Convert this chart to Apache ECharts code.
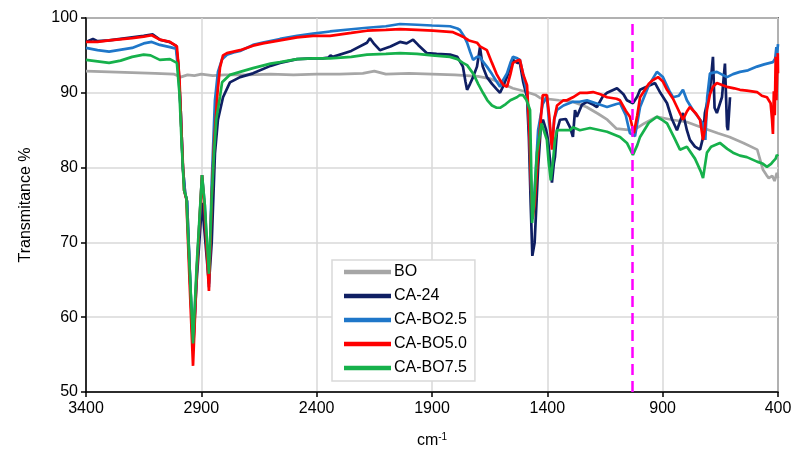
<!DOCTYPE html>
<html><head><meta charset="utf-8">
<script src="https://cdn.jsdelivr.net/npm/echarts@6/dist/echarts.min.js"></script>
<style>html,body{margin:0;padding:0;background:#fff}#c{width:795px;height:454px}</style>
</head><body><div id="c"></div>
<script>
const xTicks = [3400, 2900, 2400, 1900, 1400, 900, 400];
const seriesNames = ['BO', 'CA-24', 'CA-BO2.5', 'CA-BO5.0', 'CA-BO7.5'];
const markerWn = 1030;

const boWn = [3400,3300,3200,3100,3020,2990,2960,2930,2900,2850,2800,2700,2600,2500,2400,2300,2200,2150,2100,2000,1900,1800,1700,1650,1600,1550,1500,1450,1430,1350,1290,1230,1180,1140,1100,1040,1020,980,925,860,795,725,660,610,550,490,465,450,440,425,415,405,400];
const boT  = [92.9,92.8,92.7,92.6,92.5,92.1,92.4,92.3,92.5,92.3,92.4,92.4,92.5,92.4,92.5,92.5,92.6,92.9,92.5,92.6,92.5,92.4,92.2,91.9,91.3,90.6,90.2,89.7,89.3,89.0,88.8,88.1,87.2,86.4,85.2,85.0,85.1,85.9,86.8,86.4,86.1,85.3,84.6,84.1,83.3,82.4,79.7,79.0,78.6,78.9,78.2,79.3,78.6];

const ca24Wn = [3400,3370,3350,3300,3200,3150,3110,3080,3040,3010,3000,2990,2980,2970,2962,2950,2936,2920,2897,2885,2867,2855,2841,2828,2806,2776,2732,2676,2600,2559,2485,2416,2373,2350,2340,2330,2250,2182,2169,2150,2126,2080,2039,2010,1982,1960,1922,1880,1822,1790,1766,1755,1748,1735,1722,1705,1692,1680,1662,1640,1620,1605,1590,1575,1560,1549,1530,1519,1505,1488,1480,1472,1465,1455,1440,1428,1419,1405,1397,1385,1380,1372,1367,1358,1345,1320,1302,1289,1280,1272,1250,1228,1200,1185,1160,1141,1098,1070,1055,1029,1010,998,955,933,910,881,860,838,812,795,782,760,738,725,717,695,682,675,665,643,630,621,617,608];
const ca24T  = [96.8,97.2,96.9,97.0,97.4,97.6,97.8,97.1,96.8,96.3,94,88,80,76.5,75.5,66,55.5,65,75.3,71,64.5,70,81.9,86.4,89.4,91.4,92.1,92.6,93.6,94.0,94.5,94.6,94.6,94.7,95.0,94.8,95.6,96.7,97.3,96.5,95.7,96.2,96.8,96.6,97.1,96.4,95.3,95.2,95.1,94.8,93.5,91.5,90.4,91.2,92.1,93.5,96.1,93.5,92.1,91.2,90.5,90.0,91.0,92.1,93.5,94.4,94.0,94.0,91.5,89.4,84,75,68.2,70,80,85.5,86.4,85,83.7,80,78,80.5,81.4,85,86.4,86.5,85.4,84.1,87.7,86.8,88.4,88.8,88.4,88.1,89.5,90.0,90.6,89.8,89.0,88.6,89.5,90.4,91.0,91.3,90.0,88.6,86.5,85.0,87.3,85.0,83.7,82.8,82.4,84,87.3,90.4,94.8,88,87.3,89.4,93.9,85.5,85.0,89.4];

const bo25Wn = [3400,3350,3300,3200,3150,3115,3080,3036,3010,3000,2990,2980,2970,2962,2950,2936,2920,2897,2885,2867,2855,2841,2828,2810,2789,2760,2732,2676,2633,2559,2485,2416,2342,2250,2182,2100,2039,1965,1900,1822,1790,1779,1760,1748,1735,1722,1705,1692,1680,1662,1640,1620,1605,1590,1575,1560,1549,1530,1519,1505,1488,1478,1470,1464,1455,1440,1420,1402,1392,1380,1370,1358,1330,1289,1260,1228,1180,1141,1100,1085,1060,1042,1020,1010,998,960,925,899,870,855,830,812,795,769,740,725,715,707,695,665,621,595,565,530,491,460,422,412,407,404,400];
const bo25T  = [96.0,95.7,95.5,96.0,96.6,96.8,96.4,96.1,95.9,93,88,80,76.5,75.5,66,55.8,66,79,75,64,78,89,92.8,94.5,95.1,95.4,95.6,96.4,96.7,97.2,97.6,97.9,98.2,98.5,98.7,98.9,99.2,99.1,99.0,98.9,98.6,98.4,97.5,96.7,95.5,94.4,94.8,94.8,94.2,93.5,92.5,91.5,90.8,91.8,92.6,94.0,94.8,94.6,94.4,92.5,90.0,85,77,74.5,77,85,88.5,89.5,86,83,86.5,87.7,88.3,88.8,88.8,89.0,88.5,88.1,88.5,88.6,87,84.6,84.2,86,88.1,91.0,92.8,92.1,90.2,89.4,89.6,90.4,89.0,87.7,86.5,85.9,83.7,89.4,92.6,92.8,92.1,92.5,92.8,93.0,93.5,93.8,94.1,94.6,96.1,95.2,96.5];

const bo50Wn = [3400,3350,3300,3200,3150,3115,3080,3036,3006,2995,2985,2975,2965,2950,2936,2920,2897,2885,2867,2855,2845,2830,2819,2806,2789,2732,2676,2633,2559,2485,2416,2342,2250,2182,2100,2039,1965,1896,1809,1779,1766,1740,1705,1692,1662,1640,1620,1605,1590,1575,1560,1549,1530,1519,1505,1488,1478,1470,1464,1455,1440,1420,1402,1392,1380,1370,1358,1330,1315,1289,1259,1228,1202,1170,1141,1100,1085,1060,1042,1025,1010,998,960,942,920,899,881,855,838,812,795,782,755,738,725,718,708,695,682,665,640,621,590,565,535,491,470,448,432,426,422,418,414,410,407,404,401,400];
const bo50T  = [96.8,96.8,97.0,97.3,97.5,97.7,97.1,96.8,96.2,92,84,77,75.8,64,53.5,66,79,74,63.5,76,83,90.0,93.4,95.0,95.3,95.7,96.3,96.6,97.0,97.4,97.6,97.6,98.0,98.3,98.4,98.5,98.4,98.3,98.1,97.7,97.5,97.0,96.7,96.2,95.7,94,92.5,91.7,91.0,90.8,92.5,94.0,94.3,94.4,92.5,91.0,85,77,73.2,75,82,89.7,89.7,87,82.4,86.5,88.3,89.0,89.0,89.4,90.0,90.0,90.1,89.8,89.4,89.2,89.0,87.6,86.8,84.6,87,89.4,91.2,91.7,92.1,91.5,90.4,89.2,88.1,86.4,87.5,88.1,87.2,86.4,83.7,85,87.7,89.8,90.8,91.3,91.0,90.8,90.6,90.4,90.3,90.1,89.6,89.4,88.6,86.5,84.5,90.2,87.0,94.8,89.0,92.0,95.3,92.6];

const bo75Wn = [3400,3350,3300,3250,3200,3150,3120,3080,3036,3006,2995,2985,2975,2965,2950,2936,2920,2897,2885,2867,2855,2845,2835,2819,2810,2776,2732,2676,2600,2559,2485,2416,2342,2250,2182,2100,2039,1965,1900,1822,1790,1766,1748,1720,1700,1679,1660,1640,1620,1605,1580,1560,1532,1519,1506,1490,1475,1470,1466,1458,1445,1425,1419,1402,1395,1385,1375,1367,1358,1345,1302,1289,1259,1215,1141,1085,1055,1042,1029,1010,998,960,925,899,881,850,825,795,760,751,735,725,708,690,652,620,595,565,535,491,465,448,430,422,410,405,400];
const bo75T  = [94.4,94.2,94.0,94.3,94.8,95.1,95.0,94.4,94.5,94.0,90,83,77,76,66,56.5,67,79,75,65.8,76,82,86.5,89.5,91.4,92.4,92.8,93.3,93.9,94.1,94.5,94.6,94.6,94.8,95.1,95.2,95.3,95.2,95.0,94.8,94.5,94.0,93.7,92.5,91.2,90.0,89.0,88.3,88.0,88.0,88.5,89.0,89.4,89.7,89.7,89.0,87.7,80,72.6,75,82,85.9,85.9,83.7,81,78.3,81,83.7,85.0,85.0,85.0,85.4,85.0,85.3,84.8,84.1,83.3,82.5,81.7,83,84.1,86.0,86.8,86.3,85.9,84,82.4,82.8,81.2,80.6,79.5,78.6,82.0,82.8,83.3,82.5,82.0,81.6,81.4,80.8,80.5,80.1,80.5,80.8,81.2,81.7,81.5];

const colors = ['#a6a6a6', '#0f1f63', '#1f77c9', '#ff0000', '#16b14b'];
const wnSets = [boWn, ca24Wn, bo25Wn, bo50Wn, bo75Wn];
const tSets = [boT, ca24T, bo25T, bo50T, bo75T];

const chart = echarts.init(document.getElementById('c'), null, {renderer: 'canvas'});
const FONT = '"Liberation Sans", Arial, sans-serif';
const series = seriesNames.map((name, i) => ({
  name: name,
  type: 'line',
  data: wnSets[i].map((w, k) => [w, tSets[i][k]]),
  symbol: 'none',
  smooth: false,
  lineStyle: {color: colors[i], width: 2.7},
  itemStyle: {color: colors[i]},
  z: 2 + i,
  silent: true
}));
series[4].markLine = {
  silent: true,
  symbol: ['none', 'none'],
  label: {show: false},
  lineStyle: {color: '#ff00ff', width: 2.5, type: [11, 6]},
  data: [{xAxis: markerWn}],
  z: 20
};

chart.setOption({
  animation: false,
  backgroundColor: '#fff',
  textStyle: {fontFamily: FONT},
  grid: {left: 86, right: 17, top: 18, bottom: 62, show: true, borderColor: '#000', borderWidth: 1.5, backgroundColor: 'transparent'},
  legend: {
    orient: 'vertical', left: 332, top: 260,
    data: seriesNames,
    backgroundColor: '#fff', borderColor: '#d9d9d9', borderWidth: 1.5,
    padding: [4, 8, 5, 12],
    itemWidth: 47, itemHeight: 14, itemGap: 8,
    textStyle: {fontFamily: FONT, fontSize: 16, color: '#000', padding: [0, 0, 0, -2]},
    icon: 'path://M0,0 L10,0 L10,1 L0,1 Z',
  },
  xAxis: {
    type: 'value', inverse: true, min: 400, max: 3400, interval: 500,
    name: 'cm{sup|-1}', nameLocation: 'middle', nameGap: 40,
    nameTextStyle: {fontFamily: FONT, fontSize: 16, color: '#000',
      rich: {sup: {fontSize: 10, verticalAlign: 'top', padding: [0, 0, 8, 0], color: '#000', fontFamily: FONT}}},
    axisLine: {show: true, lineStyle: {color: '#000', width: 1.5}},
    axisTick: {show: true, inside: false, length: 5, lineStyle: {color: '#000', width: 1.5}},
    axisLabel: {fontFamily: FONT, fontSize: 16, color: '#000', margin: 9, formatter: v => String(Math.round(v))},
    splitLine: {show: true, lineStyle: {color: '#d9d9d9', width: 1.5}}
  },
  yAxis: {
    type: 'value', min: 50, max: 100, interval: 10,
    name: 'Transmitance %', nameLocation: 'middle', nameGap: 52, nameRotate: 90,
    nameTextStyle: {fontFamily: FONT, fontSize: 16, color: '#000'},
    axisLine: {show: true, lineStyle: {color: '#000', width: 1.5}},
    axisTick: {show: true, inside: false, length: 5, lineStyle: {color: '#000', width: 1.5}},
    axisLabel: {fontFamily: FONT, fontSize: 16, color: '#000', margin: 8},
    splitLine: {show: true, lineStyle: {color: '#d9d9d9', width: 1.5}}
  },
  series: series
});
</script></body></html>
